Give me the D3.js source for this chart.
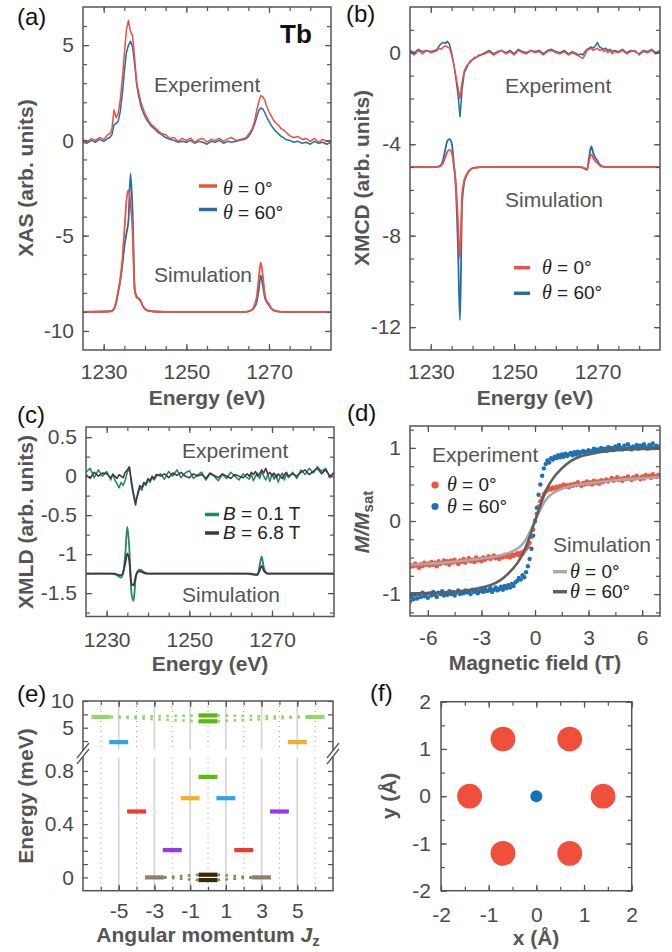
<!DOCTYPE html>
<html>
<head>
<meta charset="utf-8">
<script src="https://cdn.jsdelivr.net/npm/d3@7/dist/d3.min.js"></script>
<style>
  body { margin: 0; background: #fff; }
  svg { display: block; }
</style>
</head>
<body>
<svg id="fig" width="672" height="952"></svg>
<script>
// ---------- data ----------
const energyDomain = [1225, 1285];
const energyTicks = [1230, 1235, 1240, 1245, 1250, 1255, 1260, 1265, 1270, 1275, 1280];
const energyLabels = [1230, 1250, 1270];

// experimental energy grid (denser around the L3 / L2 edges)
const gridE = [
  1225, 1226, 1227, 1228, 1229, 1230, 1231,
  1231.5, 1232, 1232.5, 1233, 1233.5, 1234, 1234.5, 1235, 1235.5, 1236, 1236.5, 1237, 1237.5, 1238, 1238.5, 1239, 1239.5, 1240, 1240.5, 1241, 1241.5, 1242,
  1243, 1244, 1245, 1246, 1247, 1248, 1249, 1250, 1251, 1252, 1253, 1254, 1255, 1256, 1257, 1258, 1259, 1260, 1261, 1262, 1263, 1264,
  1264.5, 1265, 1265.5, 1266, 1266.5, 1267, 1267.5, 1268, 1268.5, 1269, 1269.5, 1270, 1270.5, 1271, 1271.5, 1272, 1272.5, 1273, 1273.5, 1274,
  1275, 1276, 1277, 1278, 1279, 1280, 1281, 1282, 1283, 1284, 1285
];
// simulation energy grid
const simE = [
  1225, 1231, 1232,
  1232.5, 1233, 1233.5, 1234, 1234.5, 1235, 1235.5, 1236, 1236.5, 1237, 1237.5, 1238, 1238.5, 1239, 1239.5, 1240,
  1241, 1242, 1245, 1264, 1265, 1266,
  1266.5, 1267, 1267.5, 1268, 1268.5, 1269, 1269.5, 1270, 1270.5,
  1271, 1272, 1274, 1285
];

// (a) XAS
const xasExp0 = [
  0.05, -0.1, 0.1, 0.0, 0.15, 0.05, 0.3,
  0.35, 0.6, 1.6, 1.2, 1.4, 2.1, 3.2, 4.5, 5.8, 6.3, 5.7, 5.5, 4.3, 3.0, 2.5, 2.0, 1.7, 1.4, 1.2, 1.0, 0.85, 0.75,
  0.55, 0.35, 0.3, 0.1, 0.15, -0.05, 0.1, 0.0, 0.12, -0.1, 0.05, 0.1, -0.08, 0.05, 0.0, 0.1, -0.05, 0.08, 0.15, 0.0, 0.05, 0.1,
  0.15, 0.3, 0.45, 0.65, 1.0, 1.55, 2.0, 2.35, 2.3, 2.1, 1.75, 1.5, 1.3, 1.1, 0.95, 0.85, 0.75, 0.6, 0.55, 0.45,
  0.25, 0.15, 0.2, 0.05, 0.1, -0.05, 0.1, -0.1, 0.05, -0.05, 0.0
];
const xasExp60 = [
  -0.1, -0.15, 0.0, -0.1, 0.05, -0.05, 0.1,
  0.15, 0.3, 0.8, 0.9, 1.0, 1.5, 2.4, 3.6, 4.6, 5.0, 5.2, 4.9, 4.0, 2.9, 2.3, 1.8, 1.5, 1.25, 1.05, 0.9, 0.75, 0.65,
  0.45, 0.3, 0.15, 0.05, 0.0, -0.1, -0.05, -0.1, 0.0, -0.15, -0.05, -0.1, -0.2, -0.05, -0.1, 0.0, -0.15, -0.05, -0.1, -0.05, 0.0, 0.05,
  0.1, 0.2, 0.35, 0.55, 0.85, 1.2, 1.55, 1.7, 1.65, 1.45, 1.2, 1.0, 0.8, 0.65, 0.5, 0.4, 0.3, 0.2, 0.15, 0.05,
  0.0, -0.1, -0.05, -0.15, -0.1, -0.2, -0.05, -0.15, -0.1, -0.2, -0.1
];
const xasSim0 = [
  -9, -8.98, -8.95,
  -8.85, -8.5, -7.9, -7.3, -6.3, -4.8, -3.2, -2.6, -3.3, -4.8, -7.8, -8.25, -8.3, -8.45, -8.7, -8.85,
  -8.95, -8.98, -9, -9, -8.97, -8.85,
  -8.65, -8.25, -7.3, -6.4, -7.1, -8.1, -8.45, -8.6, -8.8,
  -8.9, -8.97, -9, -9
];
const xasSim60 = [
  -9, -8.98, -8.95,
  -8.85, -8.55, -8.0, -7.4, -6.6, -5.6, -4.9, -4.2, -1.75, -3.8, -7.8, -8.2, -8.3, -8.45, -8.7, -8.85,
  -8.95, -8.98, -9, -9, -8.97, -8.88,
  -8.75, -8.5, -7.9, -7.1, -7.6, -8.25, -8.5, -8.65, -8.8,
  -8.9, -8.97, -9, -9
];

// (b) XMCD
const xmcdExp0 = [
  0.05, -0.1, 0.1, -0.05, 0.1, 0.0, 0.05,
  0.1, 0.2, 0.15, 0.25, 0.3, 0.25, 0.2, -0.1, -0.5, -1.0, -1.5, -2.0, -1.3, -0.8, -0.6, -0.5, -0.35, -0.3, -0.2, -0.2, -0.15, -0.1,
  -0.05, 0.05, -0.1, 0.0, 0.1, -0.05, 0.05, -0.1, 0.1, 0.0, -0.05, 0.1, 0.0, 0.05, -0.1, 0.05, 0.1, 0.0, -0.05, 0.05, -0.1, 0.0,
  -0.05, -0.1, -0.15, -0.2, -0.25, -0.1, 0.1, 0.15, 0.2, 0.1, 0.15, 0.2, 0.1, 0.15, 0.05, 0.1, 0.0, 0.1, -0.05, 0.05,
  0.0, 0.1, -0.05, 0.05, 0.1, -0.1, 0.05, 0.0, 0.1, -0.05, 0.05
];
const xmcdExp60 = [
  0.1, 0.0, 0.15, 0.05, 0.1, 0.05, 0.1,
  0.15, 0.3, 0.4, 0.45, 0.4, 0.5, 0.35, 0.0, -0.5, -1.1, -1.8, -2.8, -1.6, -0.9, -0.7, -0.5, -0.4, -0.3, -0.25, -0.2, -0.1, -0.1,
  0.0, 0.1, -0.05, 0.05, 0.1, 0.0, 0.1, -0.05, 0.15, 0.05, 0.0, 0.1, 0.05, 0.1, -0.05, 0.1, 0.15, 0.05, 0.0, 0.1, -0.05, 0.05,
  0.0, -0.05, -0.1, -0.05, -0.1, 0.05, 0.15, 0.2, 0.25, 0.2, 0.3, 0.45, 0.25, 0.2, 0.15, 0.2, 0.1, 0.15, 0.05, 0.1,
  0.05, 0.15, 0.0, 0.1, 0.05, -0.05, 0.1, 0.05, 0.15, 0.0, 0.1
];
const xmcdSim0 = [
  -5, -5, -4.98,
  -4.93, -4.8, -4.55, -4.32, -4.25, -4.35, -4.9, -5.7, -7.3, -9.0, -6.2, -5.6, -5.35, -5.2, -5.1, -5.05,
  -5.02, -5, -5, -5, -5, -5,
  -5.02, -5.05, -5.1, -4.7, -4.45, -4.6, -4.75, -4.82, -4.92,
  -4.97, -5, -5, -5
];
const xmcdSim60 = [
  -5, -5, -4.97,
  -4.9, -4.65, -4.2, -3.85, -3.78, -3.95, -4.8, -5.9, -8.4, -11.7, -6.6, -5.7, -5.4, -5.22, -5.12, -5.06,
  -5.02, -5, -5, -5, -5, -5,
  -5.03, -5.08, -5.12, -4.55, -4.1, -4.4, -4.6, -4.72, -4.88,
  -4.96, -5, -5, -5
];

// (c) XMLD
const xmldExpLow = [
  0.05, 0.1, -0.02, 0.08, 0.0, 0.06, -0.05,
  0.03, -0.05, -0.1, -0.15, -0.08, -0.12, -0.05, 0.05, 0.1, -0.05, -0.22, -0.32, -0.25, -0.15, -0.18, -0.1, -0.12, -0.05, -0.08, -0.02, -0.05, 0.0,
  0.03, -0.04, 0.06, 0.0, 0.08, -0.02, 0.04, 0.07, -0.03, 0.02, 0.05, -0.05, 0.03, 0.0, -0.06, 0.02, -0.03, 0.05, 0.0, -0.05, 0.03, -0.02,
  -0.04, 0.02, -0.06, 0.0, 0.04, -0.03, 0.05, 0.0, -0.05, 0.02, -0.07, 0.03, -0.04, 0.02, -0.08, 0.0, 0.04, -0.05, 0.03, -0.02,
  0.05, -0.03, 0.08, 0.02, 0.1, 0.04, 0.12, 0.06, 0.1, -0.02, 0.05
];
const xmldExpHigh = [
  0.02, -0.03, 0.05, 0.0, 0.04, 0.03, -0.02,
  0.02, 0.0, -0.03, 0.02, 0.0, -0.02, 0.05, 0.08, 0.12, -0.1, -0.25, -0.37, -0.22, -0.12, -0.15, -0.08, -0.1, -0.03, -0.06, 0.0, -0.03, 0.02,
  0.0, 0.03, -0.02, 0.04, 0.01, 0.05, 0.0, -0.02, 0.03, 0.0, 0.02, -0.03, 0.04, 0.01, -0.02, 0.03, 0.0, -0.03, 0.02, 0.0, -0.02, 0.03,
  0.0, 0.05, 0.02, 0.06, 0.0, 0.03, 0.08, 0.04, 0.1, 0.02, 0.05, 0.0, 0.04, -0.02, 0.03, 0.0, -0.03, 0.02, 0.05, 0.0,
  0.03, 0.0, 0.05, 0.08, 0.02, 0.06, 0.1, 0.03, 0.08, 0.0, 0.04
];
const xmldSimLow = [
  -1.25, -1.25, -1.26,
  -1.27, -1.29, -1.3, -1.24, -1.0, -0.65, -0.95, -1.5, -1.6, -1.32, -1.22, -1.2, -1.21, -1.23, -1.24, -1.25,
  -1.25, -1.25, -1.25, -1.25, -1.26, -1.27,
  -1.27, -1.15, -1.03, -1.17, -1.23, -1.25, -1.25, -1.25, -1.25,
  -1.25, -1.25, -1.25, -1.25
];
const xmldSimHigh = [
  -1.25, -1.25, -1.25,
  -1.26, -1.27, -1.27, -1.23, -1.12, -0.99, -1.1, -1.38, -1.4, -1.29, -1.23, -1.22, -1.23, -1.24, -1.25, -1.25,
  -1.25, -1.25, -1.25, -1.25, -1.25, -1.26,
  -1.26, -1.21, -1.15, -1.21, -1.24, -1.25, -1.25, -1.25, -1.25,
  -1.25, -1.25, -1.25, -1.25
];

// (d) magnetisation
const fieldB = [
  -7, -6.9, -6.8, -6.7, -6.6, -6.5, -6.4, -6.3, -6.2, -6.1,
  -6, -5.9, -5.8, -5.7, -5.6, -5.5, -5.4, -5.3, -5.2, -5.1,
  -5, -4.9, -4.8, -4.7, -4.6, -4.5, -4.4, -4.3, -4.2, -4.1,
  -4, -3.9, -3.8, -3.7, -3.6, -3.5, -3.4, -3.3, -3.2, -3.1,
  -3, -2.9, -2.8, -2.7, -2.6, -2.5, -2.4, -2.3, -2.2, -2.1,
  -2, -1.9, -1.8, -1.7, -1.6, -1.5, -1.4, -1.3, -1.2, -1.1,
  -1, -0.9, -0.8, -0.7, -0.6, -0.5, -0.4, -0.3, -0.2, -0.1,
  0, 0.1, 0.2, 0.3, 0.4, 0.5, 0.6, 0.7, 0.8, 0.9,
  1, 1.1, 1.2, 1.3, 1.4, 1.5, 1.6, 1.7, 1.8, 1.9,
  2, 2.1, 2.2, 2.3, 2.4, 2.5, 2.6, 2.7, 2.8, 2.9,
  3, 3.1, 3.2, 3.3, 3.4, 3.5, 3.6, 3.7, 3.8, 3.9,
  4, 4.1, 4.2, 4.3, 4.4, 4.5, 4.6, 4.7, 4.8, 4.9,
  5, 5.1, 5.2, 5.3, 5.4, 5.5, 5.6, 5.7, 5.8, 5.9,
  6, 6.1, 6.2, 6.3, 6.4, 6.5, 6.6, 6.7, 6.8, 6.9,
  7
];
const magExp60 = [
  -1.1, -1.04, -1.07, -1.01, -1.06, -1.0, -1.04, -0.98, -1.03, -1.0,
  -1.05, -0.99, -1.02, -0.97, -1.01, -1.04, -0.98, -1.0, -0.96, -1.02,
  -0.99, -1.01, -0.96, -1.0, -0.97, -1.02, -0.98, -0.95, -1.0, -0.97,
  -0.99, -0.95, -0.98, -0.96, -1.0, -0.94, -0.97, -0.95, -0.99, -0.96,
  -0.94, -0.97, -0.93, -0.96, -0.95, -0.92, -0.97, -0.94, -0.91, -0.95,
  -0.93, -0.9, -0.94, -0.89, -0.92, -0.88, -0.91, -0.86, -0.89, -0.84,
  -0.82, -0.78, -0.8, -0.74, -0.77, -0.7, -0.62, -0.52, -0.38, -0.2,
  0.0, 0.18, 0.36, 0.5, 0.62, 0.72, 0.78, 0.83, 0.8, 0.86,
  0.84, 0.88, 0.86, 0.9, 0.87, 0.91, 0.88, 0.92, 0.89, 0.91,
  0.93, 0.9, 0.94, 0.91, 0.95, 0.92, 0.94, 0.96, 0.93, 0.95,
  0.97, 0.94, 0.96, 0.99, 0.95, 0.98, 0.96, 1.0, 0.97, 0.99,
  0.96, 1.01, 0.98, 1.0, 0.97, 1.02, 0.99, 1.04, 1.0, 0.98,
  1.03, 0.99, 1.05, 1.01, 0.98, 1.02, 1.0, 1.04, 0.99, 1.03,
  1.0, 1.05, 1.01, 0.99, 1.04, 1.02, 1.06, 1.0, 1.03, 1.01,
  1.02
];
const magExp0 = [
  -0.63, -0.6, -0.62, -0.58, -0.61, -0.64, -0.59, -0.62, -0.57, -0.6,
  -0.58, -0.61, -0.56, -0.6, -0.57, -0.62, -0.55, -0.59, -0.57, -0.54,
  -0.58, -0.55, -0.6, -0.54, -0.57, -0.53, -0.56, -0.59, -0.54, -0.56,
  -0.52, -0.57, -0.54, -0.51, -0.55, -0.53, -0.56, -0.5, -0.54, -0.52,
  -0.55, -0.5, -0.53, -0.51, -0.48, -0.52, -0.5, -0.47, -0.51, -0.49,
  -0.52, -0.48, -0.5, -0.46, -0.49, -0.47, -0.5, -0.45, -0.48, -0.46,
  -0.44, -0.47, -0.43, -0.45, -0.41, -0.38, -0.35, -0.3, -0.22, -0.12,
  0.0, 0.1, 0.2, 0.27, 0.32, 0.37, 0.4, 0.42, 0.45, 0.43,
  0.46, 0.44, 0.47, 0.45, 0.48, 0.46, 0.5, 0.47, 0.49, 0.46,
  0.5, 0.48, 0.51, 0.49, 0.53, 0.5, 0.48, 0.52, 0.5, 0.54,
  0.51, 0.53, 0.5, 0.55, 0.52, 0.54, 0.51, 0.56, 0.53, 0.55,
  0.57, 0.54, 0.56, 0.59, 0.55, 0.57, 0.6, 0.56, 0.58, 0.55,
  0.59, 0.57, 0.61, 0.58, 0.56, 0.6, 0.58, 0.62, 0.59, 0.57,
  0.61, 0.58, 0.63, 0.6, 0.62, 0.59, 0.64, 0.61, 0.6, 0.63,
  0.61
];
const simB = [-7, -6, -5, -4, -3, -2.5, -2, -1.5, -1, -0.75, -0.5, -0.25, 0, 0.25, 0.5, 0.75, 1, 1.5, 2, 2.5, 3, 4, 5, 6, 7];
const magSim60 = [-0.99, -0.985, -0.975, -0.955, -0.91, -0.88, -0.82, -0.72, -0.58, -0.48, -0.35, -0.18, 0, 0.18, 0.35, 0.48, 0.58, 0.72, 0.82, 0.88, 0.91, 0.955, 0.975, 0.985, 0.99];
const magSim0 = [-0.6, -0.585, -0.57, -0.545, -0.515, -0.5, -0.475, -0.44, -0.38, -0.33, -0.25, -0.13, 0, 0.13, 0.25, 0.33, 0.38, 0.44, 0.475, 0.5, 0.515, 0.545, 0.57, 0.585, 0.6];

// (e) crystal-field levels
const levelJ = [-3, 3, 0, 0, -2, 2, -4, 4, -1, 1, 0, -5, 5, -6, 6, 0, 0];
const levelE = [0, 0, 0.02, -0.02, 0.205, 0.205, 0.495, 0.495, 0.595, 0.595, 0.755, 2.3, 2.3, 7.0, 7.0, 7.3, 6.2];
const levelColors = ["#8b826a", "#8b826a", "#3a2a06", "#3a2a06", "#9b36ee", "#f2392b", "#f2392b", "#9b36ee",
  "#f2b125", "#2ca4e6", "#57bb0c", "#2ca4e6", "#f2b125", "#93d765", "#93d765", "#57bb0c", "#57bb0c"];
// tunnelling links, as pairs of level indices (left level, right level)
const links = [[0, 2], [0, 3], [2, 1], [3, 1], [13, 15], [13, 16], [15, 14], [16, 14]];
const linkColors = ["#8b826a", "#8b826a", "#8b826a", "#8b826a", "#93d765", "#93d765", "#93d765", "#93d765"];

// (f) point charges
const ligandX = [1.4, 0.7, -0.7, -1.4, -0.7, 0.7];
const ligandY = [0, 1.21, 1.21, 0, -1.21, -1.21];
const ionX = [0], ionY = [0];

// ---------- drawing ----------
const FONT = "'Liberation Sans', Arial, Helvetica, sans-serif";
const SERIF = "'Liberation Serif', 'Times New Roman', serif";
const AXC = "#555", TXC = "#4a4a4a", TITC = "#555";
const RED = "#f0503e", BLUE = "#1f6fa9", GREEN = "#1f8b5b", PURPLE = "#47304a";
const svg = d3.select("#fig");
svg.append("rect").attr("width", 672).attr("height", 952).attr("fill", "#fff");

function check(name, arr, grid) {
  if (arr.length !== grid.length) throw new Error(name + ": " + arr.length + " vs " + grid.length);
}

let clipN = 0;
function plotArea(x, y) {
  const id = "clip" + (clipN++);
  const [x0, x1] = x.range(), [y0, y1] = y.range();
  svg.append("clipPath").attr("id", id).append("rect")
    .attr("x", x0).attr("y", y1).attr("width", x1 - x0).attr("height", y0 - y1);
  return svg.append("g").attr("clip-path", `url(#${id})`);
}

function styleAxis(s) {
  s.select(".domain").remove();
  s.selectAll("line").attr("stroke", AXC).attr("stroke-width", 1.2);
  s.selectAll("text").attr("fill", TXC).attr("font-size", 21).attr("font-family", FONT);
}
function putAxis(axis, tx, ty) {
  return svg.append("g").attr("transform", `translate(${tx},${ty})`).call(axis).call(styleAxis);
}
const blank = () => "";

function xAxes(x, yb, yt, minor, major, pad, fmt) {
  putAxis(d3.axisBottom(x).tickValues(minor).tickSize(-4).tickFormat(blank), 0, yb);
  putAxis(d3.axisTop(x).tickValues(minor).tickSize(-4).tickFormat(blank), 0, yt);
  putAxis(d3.axisBottom(x).tickValues(major).tickSize(-6).tickPadding(pad).tickFormat(fmt || String), 0, yb);
  putAxis(d3.axisTop(x).tickValues(major).tickSize(-6).tickFormat(blank), 0, yt);
}
function yAxes(y, xl, xr, minor, major, pad, fmt) {
  putAxis(d3.axisLeft(y).tickValues(minor).tickSize(-4).tickFormat(blank), xl, 0);
  putAxis(d3.axisRight(y).tickValues(minor).tickSize(-4).tickFormat(blank), xr, 0);
  putAxis(d3.axisLeft(y).tickValues(major).tickSize(-6).tickPadding(pad).tickFormat(fmt || String), xl, 0);
  putAxis(d3.axisRight(y).tickValues(major).tickSize(-6).tickFormat(blank), xr, 0);
}
function frame(x, y) {
  const [x0, x1] = x.range(), [y0, y1] = y.range();
  svg.append("rect").attr("x", x0).attr("y", y1).attr("width", x1 - x0).attr("height", y0 - y1)
    .attr("fill", "none").attr("stroke", AXC).attr("stroke-width", 1.5);
}

function text(x, y, str, o = {}) {
  return svg.append("text").attr("x", x).attr("y", y)
    .attr("font-family", FONT).attr("font-size", o.size || 21)
    .attr("font-weight", o.bold ? "bold" : null)
    .attr("fill", o.color || TITC).attr("text-anchor", o.anchor || "start")
    .text(str);
}
function yTitle(x, yc, build) {
  const t = svg.append("text").attr("transform", `translate(${x},${yc}) rotate(-90)`)
    .attr("text-anchor", "middle").attr("font-family", FONT).attr("font-size", 21)
    .attr("font-weight", "bold").attr("fill", TITC);
  build(t);
  return t;
}
// legend entries are packed tightly in the reference, so they use a slightly smaller size
function thetaLabel(x, y, val) {
  const t = svg.append("text").attr("x", x).attr("y", y).attr("font-family", FONT)
    .attr("font-size", 19).attr("fill", "#222");
  t.append("tspan").attr("font-family", SERIF).attr("font-style", "italic").attr("font-size", 20).text("\u03b8");
  t.append("tspan").text(" = " + val);
  return t;
}

// generic spectrum panel
function spectrum(p) {
  const x = d3.scaleLinear().domain(energyDomain).range([p.left, p.right]);
  const y = d3.scaleLinear().domain(p.yDomain).range([p.bottom, p.top]);
  const plot = plotArea(x, y);
  const lineExp = d3.line().x((d, i) => x(gridE[i])).y(d => y(d));
  const lineSim = d3.line().x((d, i) => x(simE[i])).y(d => y(d)).curve(d3.curveMonotoneX);
  p.series.forEach(s => {
    check(s.name + " exp", s.exp, gridE);
    check(s.name + " sim", s.sim, simE);
    plot.append("path").datum(s.sim).attr("d", lineSim).attr("fill", "none")
      .attr("stroke", s.color).attr("stroke-width", 1.8).attr("stroke-linejoin", "round");
  });
  p.series.forEach(s => {
    plot.append("path").datum(s.exp).attr("d", lineExp).attr("fill", "none")
      .attr("stroke", s.color).attr("stroke-width", 1.5).attr("stroke-linejoin", "round");
  });
  xAxes(x, p.bottom, p.top, energyTicks, energyLabels, p.xPad);
  yAxes(y, p.left, p.right, p.yMinor, p.yMajor, 9);
  frame(x, y);
  return { x, y };
}

// (a)
spectrum({
  left: 83, right: 331, top: 7, bottom: 350, yDomain: [-11, 7], xPad: 14,
  yMinor: [-10, -9, -8, -7, -6, -5, -4, -3, -2, -1, 0, 1, 2, 3, 4, 5, 6],
  yMajor: [-10, -5, 0, 5],
  series: [
    { name: "xas60", exp: xasExp60, sim: xasSim60, color: BLUE },
    { name: "xas0", exp: xasExp0, sim: xasSim0, color: RED }
  ]
});
text(17, 25, "(a)", { size: 24, color: "#111" });
text(280, 43, "Tb", { size: 26, bold: true, color: "#111" });
text(154, 92, "Experiment");
text(154, 282, "Simulation");
[[RED, "0\u00b0", 186, 195], [BLUE, "60\u00b0", 209.5, 219]].forEach(([c, v, ly, ty]) => {
  svg.append("line").attr("x1", 199).attr("x2", 217).attr("y1", ly).attr("y2", ly)
    .attr("stroke", c).attr("stroke-width", 3.5);
  thetaLabel(223, ty, v);
});
yTitle(33, 178, t => t.text("XAS (arb. units)"));
text(207, 405, "Energy (eV)", { bold: true, anchor: "middle" });

// (b)
spectrum({
  left: 410, right: 660, top: 7, bottom: 350, yDomain: [-13, 2], xPad: 14,
  yMinor: [-12, -11, -10, -9, -8, -7, -6, -5, -4, -3, -2, -1, 0, 1],
  yMajor: [-12, -8, -4, 0],
  series: [
    { name: "xmcd60", exp: xmcdExp60, sim: xmcdSim60, color: BLUE },
    { name: "xmcd0", exp: xmcdExp0, sim: xmcdSim0, color: RED }
  ]
});
text(346, 22, "(b)", { size: 24, color: "#111" });
text(505, 93, "Experiment");
text(505, 207, "Simulation");
[[RED, "0\u00b0", 267.7, 274], [BLUE, "60\u00b0", 293.3, 299]].forEach(([c, v, ly, ty]) => {
  svg.append("line").attr("x1", 514).attr("x2", 530).attr("y1", ly).attr("y2", ly)
    .attr("stroke", c).attr("stroke-width", 3.5);
  thetaLabel(542, ty, v);
});
yTitle(369, 178, t => t.text("XMCD (arb. units)"));
text(535, 405, "Energy (eV)", { bold: true, anchor: "middle" });

// (c)
spectrum({
  left: 86, right: 334, top: 427, bottom: 616.5, yDomain: [-1.8, 0.63], xPad: 16,
  yMinor: [-1.75, -1.5, -1.25, -1, -0.75, -0.5, -0.25, 0, 0.25, 0.5],
  yMajor: [-1.5, -1, -0.5, 0, 0.5],
  series: [
    { name: "xmldLow", exp: xmldExpLow, sim: xmldSimLow, color: GREEN },
    { name: "xmldHigh", exp: xmldExpHigh, sim: xmldSimHigh, color: PURPLE }
  ]
});
text(17, 423, "(c)", { size: 24, color: "#111" });
text(182, 458, "Experiment");
text(182, 602, "Simulation");
[[GREEN, "0.1 T", 514.5, 520], [PURPLE, "6.8 T", 533, 539]].forEach(([c, v, ly, ty]) => {
  svg.append("line").attr("x1", 205).attr("x2", 219).attr("y1", ly).attr("y2", ly)
    .attr("stroke", c).attr("stroke-width", 3.5);
  const t = svg.append("text").attr("x", 223).attr("y", ty).attr("font-family", FONT)
    .attr("font-size", 19).attr("fill", "#222");
  t.append("tspan").attr("font-style", "italic").text("B");
  t.append("tspan").text(" = " + v);
});
yTitle(33, 522, t => t.text("XMLD (arb. units)"));
text(210, 671, "Energy (eV)", { bold: true, anchor: "middle" });

// (d)
{
  check("magExp0", magExp0, fieldB);
  check("magExp60", magExp60, fieldB);
  check("magSim0", magSim0, simB);
  check("magSim60", magSim60, simB);
  const x = d3.scaleLinear().domain([-7, 7]).range([410, 660]);
  const y = d3.scaleLinear().domain([-1.3, 1.3]).range([616, 426]);
  const plot = plotArea(x, y);
  [[magExp0, "#f0553f"], [magExp60, "#1f72b2"]].forEach(([vals, c]) => {
    plot.append("g").selectAll("circle").data(vals).join("circle")
      .attr("cx", (d, i) => x(fieldB[i])).attr("cy", d => y(d)).attr("r", 2.2).attr("fill", c);
  });
  const line = d3.line().x((d, i) => x(simB[i])).y(d => y(d)).curve(d3.curveMonotoneX);
  plot.append("path").datum(magSim0).attr("d", line).attr("fill", "none")
    .attr("stroke", "#a9a9a9").attr("stroke-width", 2.6);
  plot.append("path").datum(magSim60).attr("d", line).attr("fill", "none")
    .attr("stroke", "#5f5f5f").attr("stroke-width", 2.6);
  xAxes(x, 616, 426, [-6, -4.5, -3, -1.5, 0, 1.5, 3, 4.5, 6], [-6, -3, 0, 3, 6], 14);
  yAxes(y, 410, 660, [-1.25, -1, -0.75, -0.5, -0.25, 0, 0.25, 0.5, 0.75, 1, 1.25], [-1, 0, 1], 9);
  frame(x, y);
}
text(347, 421, "(d)", { size: 24, color: "#111" });
text(432, 462, "Experiment");
[["#f0553f", "0\u00b0", 485, 491], ["#1f72b2", "60\u00b0", 506.5, 513]].forEach(([c, v, cy, ty]) => {
  svg.append("circle").attr("cx", 435).attr("cy", cy).attr("r", 3.6).attr("fill", c);
  thetaLabel(447, ty, v);
});
text(553, 552, "Simulation");
[["#a9a9a9", "0\u00b0", 571.7, 577.5], ["#5f5f5f", "60\u00b0", 591.7, 597.5]].forEach(([c, v, ly, ty]) => {
  svg.append("line").attr("x1", 553).attr("x2", 567).attr("y1", ly).attr("y2", ly)
    .attr("stroke", c).attr("stroke-width", 3.5);
  thetaLabel(570, ty, v);
});
yTitle(369, 522, t => {
  t.append("tspan").attr("font-style", "italic").text("M/M");
  t.append("tspan").attr("font-size", 15).attr("dy", 4).text("sat");
});
text(535, 670, "Magnetic field (T)", { bold: true, anchor: "middle" });

// (e) broken energy axis
{
  const x = d3.scaleLinear().domain([-7, 7]).range([83, 333]);
  const yHi = d3.scaleLinear().domain([0.9, 10]).range([749.6, 701]);
  const yLo = d3.scaleLinear().domain([-0.1, 0.9]).range([890.7, 757.6]);
  const yOf = e => (e >= 0.9 ? yHi(e) : yLo(e));
  const g = svg.append("g");
  const segs = [[yHi(10), yHi(0.9)], [yLo(0.9), yLo(-0.1)]];
  [-5, -3, -1, 1, 3, 5].forEach(j => segs.forEach(([a, b]) =>
    g.append("line").attr("x1", x(j)).attr("x2", x(j)).attr("y1", a).attr("y2", b)
      .attr("stroke", "#d4d4d4").attr("stroke-width", 1.6)));
  [-6, -4, -2, 0, 2, 4, 6].forEach(j => segs.forEach(([a, b]) =>
    g.append("line").attr("x1", x(j)).attr("x2", x(j)).attr("y1", a).attr("y2", b)
      .attr("stroke", "#9a9a9a").attr("stroke-width", 1).attr("stroke-dasharray", "1 4")));
  const half = 0.53;
  links.forEach(([a, b], k) => {
    g.append("line")
      .attr("x1", x(levelJ[a] + half)).attr("y1", yOf(levelE[a]))
      .attr("x2", x(levelJ[b] - half)).attr("y2", yOf(levelE[b]))
      .attr("stroke", linkColors[k]).attr("stroke-width", 2.6).attr("stroke-dasharray", "2.6 5.4");
  });
  levelJ.forEach((j, i) => {
    g.append("line").attr("x1", x(j - half)).attr("x2", x(j + half))
      .attr("y1", yOf(levelE[i])).attr("y2", yOf(levelE[i]))
      .attr("stroke", levelColors[i]).attr("stroke-width", 4.2);
  });
  xAxes(x, 890.7, 701, [-6, -5, -4, -3, -2, -1, 0, 1, 2, 3, 4, 5, 6], [-5, -3, -1, 1, 3, 5], 12);
  const hiTicks = [2.5, 5, 7.5, 10], loTicks = [0, 0.1, 0.2, 0.3, 0.4, 0.5, 0.6, 0.7, 0.8];
  putAxis(d3.axisLeft(yHi).tickValues(hiTicks).tickSize(-5).tickPadding(9)
    .tickFormat(d => (d === 5 || d === 10 ? String(d) : "")), 83, 0);
  putAxis(d3.axisRight(yHi).tickValues(hiTicks).tickSize(-5).tickFormat(blank), 333, 0);
  putAxis(d3.axisLeft(yLo).tickValues(loTicks).tickSize(-5).tickPadding(9)
    .tickFormat(d => ([0, 0.4, 0.8].includes(d) ? String(d) : "")), 83, 0);
  putAxis(d3.axisRight(yLo).tickValues(loTicks).tickSize(-5).tickFormat(blank), 333, 0);
  svg.append("rect").attr("x", 83).attr("y", 701).attr("width", 250).attr("height", 189.7)
    .attr("fill", "none").attr("stroke", AXC).attr("stroke-width", 1.5);
  // axis break
  [83, 333].forEach(xb => {
    svg.append("rect").attr("x", xb - 3).attr("y", 750.5).attr("width", 6).attr("height", 6).attr("fill", "#fff");
    [-3, 3].forEach(o => svg.append("line")
      .attr("x1", xb - 6).attr("y1", 761 + o).attr("x2", xb + 6).attr("y2", 746 + o)
      .attr("stroke", AXC).attr("stroke-width", 1.3));
  });
}
text(17, 702, "(e)", { size: 24, color: "#111" });
yTitle(33, 796, t => t.text("Energy (meV)"));
{
  const t = text(208, 942, "Angular momentum ", { bold: true, anchor: "middle" });
  t.append("tspan").attr("font-style", "italic").text("J");
  t.append("tspan").attr("font-size", 15).attr("dy", 4).text("z");
}

// (f)
{
  const x = d3.scaleLinear().domain([-2, 2]).range([441, 631.7]);
  const y = d3.scaleLinear().domain([-2, 2]).range([890.7, 701.7]);
  const half = [-2, -1.5, -1, -0.5, 0, 0.5, 1, 1.5, 2];
  xAxes(x, 890.7, 701.7, half, [-2, -1, 0, 1, 2], 16);
  yAxes(y, 441, 631.7, half, [-2, -1, 0, 1, 2], 10);
  svg.append("g").selectAll("circle").data(ligandX).join("circle")
    .attr("cx", d => x(d)).attr("cy", (d, i) => y(ligandY[i])).attr("r", 12.4).attr("fill", "#f04f3c");
  svg.append("g").selectAll("circle").data(ionX).join("circle")
    .attr("cx", d => x(d)).attr("cy", (d, i) => y(ionY[i])).attr("r", 6).attr("fill", "#1a6fbd");
  frame(x, y);
}
text(370, 701, "(f)", { size: 24, color: "#111" });
yTitle(396, 796, t => t.text("y (\u00c5)"));
text(536, 945, "x (\u00c5)", { bold: true, anchor: "middle" });
</script>
</body>
</html>
